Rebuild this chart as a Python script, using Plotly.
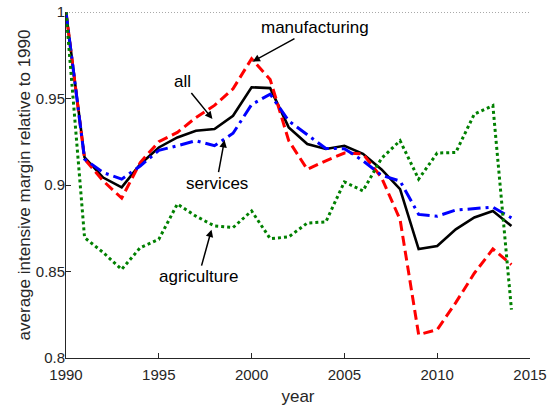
import plotly.graph_objects as go

years = list(range(1990, 2015))

all_sectors = [1.0, 0.916, 0.9043, 0.8986, 0.912, 0.9217, 0.9275, 0.9314, 0.9324, 0.940,
               0.9565, 0.956, 0.9333, 0.9237, 0.9208, 0.9227, 0.918, 0.909, 0.8976, 0.863,
               0.8647, 0.8744, 0.8812, 0.885, 0.8763]
manufacturing = [1.0, 0.915, 0.9024, 0.8924, 0.913, 0.925, 0.9304, 0.939, 0.946, 0.9556,
                 0.973, 0.961, 0.9256, 0.909, 0.914, 0.9185, 0.918, 0.9043, 0.880, 0.8135,
                 0.8164, 0.832, 0.849, 0.863, 0.854]
services = [1.0, 0.915, 0.9072, 0.9034, 0.911, 0.920, 0.9227, 0.9256, 0.9227, 0.9299,
            0.9465, 0.9525, 0.937, 0.929, 0.9211, 0.921, 0.914, 0.9056, 0.9023, 0.883,
            0.882, 0.8855, 0.8863, 0.8872, 0.881]
agriculture = [1.0, 0.8696, 0.861, 0.8512, 0.8638, 0.8686, 0.889, 0.882, 0.8763, 0.8754,
               0.885, 0.869, 0.870, 0.878, 0.8787, 0.9018, 0.8966, 0.9154, 0.9256, 0.9034,
               0.9185, 0.9188, 0.941, 0.9459, 0.828]

x_ticks = [1990, 1995, 2000, 2005, 2010, 2015]
y_ticks = [0.8, 0.85, 0.9, 0.95, 1.0]
y_tick_labels = ['0.8', '0.85', '0.9', '0.95', '1']

fig = go.Figure()

# reference line at 1
fig.add_shape(type='line', x0=1990, x1=2015, y0=1, y1=1, xref='x', yref='y',
              line=dict(color='#555555', width=1, dash='1px,2px'))

fig.add_trace(go.Scatter(x=years, y=all_sectors, mode='lines', name='all',
                         line=dict(color='black', width=2.6)))
fig.add_trace(go.Scatter(x=years, y=manufacturing, mode='lines', name='manufacturing',
                         line=dict(color='#ff0000', width=3, dash='10px,5px')))
fig.add_trace(go.Scatter(x=years, y=services, mode='lines', name='services',
                         line=dict(color='#0000ff', width=3, dash='13px,5px,3px,5px')))
fig.add_trace(go.Scatter(x=years, y=agriculture, mode='lines', name='agriculture',
                         line=dict(color='#008000', width=3, dash='3px,3px')))

# text labels with arrows (arrowhead in data coords, text offset in px)
labels = [
    ('manufacturing', 2000.05, 0.9713, 62, -34),
    ('all', 1997.89, 0.9382, -30, -37),
    ('services', 1998.54, 0.926, -8, 43),
    ('agriculture', 1997.84, 0.8742, -13, 47),
]
for text, ax_x, ax_y, dx, dy in labels:
    fig.add_annotation(x=ax_x, y=ax_y, text=text, showarrow=True,
                       ax=dx, ay=dy, arrowhead=2, arrowsize=1, arrowwidth=1.5,
                       arrowcolor='black', font=dict(size=17, color='black'))

tick_font = dict(family='Liberation Sans, Arial, sans-serif', size=15, color='#262626')
title_font = dict(family='Liberation Sans, Arial, sans-serif', size=17, color='#262626')

fig.update_layout(
    width=547, height=410,
    plot_bgcolor='white', paper_bgcolor='white',
    font=dict(family='Liberation Sans, Arial, sans-serif', color='#262626'),
    showlegend=False,
    margin=dict(l=66, r=17, t=12, b=52),
    xaxis=dict(
        range=[1990, 2015], tickvals=x_ticks, ticks='inside', ticklen=5,
        showline=True, linecolor='#262626', linewidth=1, tickcolor='#262626',
        showgrid=False, zeroline=False, tickfont=tick_font, automargin=False,
        ticklabelstandoff=3,
        title=dict(text='year', font=title_font, standoff=8),
    ),
    yaxis=dict(
        range=[0.8, 1.0], tickvals=y_ticks, ticktext=y_tick_labels, ticks='inside', ticklen=5,
        showline=True, linecolor='#262626', linewidth=1, tickcolor='#262626',
        showgrid=False, zeroline=False, tickfont=tick_font, automargin=False,
        ticklabelstandoff=-3,
        title=dict(text='average intensive margin relative to 1990', font=title_font, standoff=0),
    ),
)

# drop the default 8px body margin so the figure fills the window exactly
fig.write_html("out.html", config=dict(displayModeBar=False),
               post_script="document.body.style.margin = '0';")
